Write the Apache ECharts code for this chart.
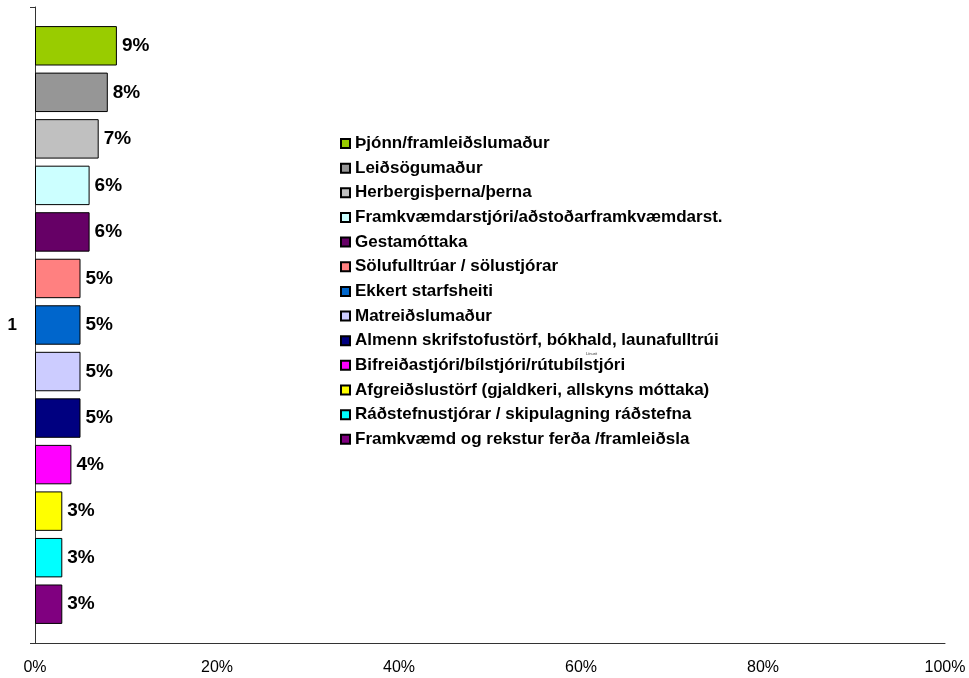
<!DOCTYPE html>
<html>
<head>
<meta charset="utf-8">
<script src="https://cdn.jsdelivr.net/npm/echarts@6/dist/echarts.min.js"></script>
<style>html,body{margin:0;padding:0;background:#fff;}#c{width:969px;height:678px;}</style>
</head>
<body>
<div id="c"></div>
<script>
var categories = ['1'];
var seriesNames = [
  'Þjónn/framleiðslumaður',
  'Leiðsögumaður',
  'Herbergisþerna/þerna',
  'Framkvæmdarstjóri/aðstoðarframkvæmdarst.',
  'Gestamóttaka',
  'Sölufulltrúar / sölustjórar',
  'Ekkert starfsheiti',
  'Matreiðslumaður',
  'Almenn skrifstofustörf, bókhald, launafulltrúi',
  'Bifreiðastjóri/bílstjóri/rútubílstjóri',
  'Afgreiðslustörf (gjaldkeri, allskyns móttaka)',
  'Ráðstefnustjórar / skipulagning ráðstefna',
  'Framkvæmd og rekstur ferða /framleiðsla'
];
var seriesValues = [9, 8, 7, 6, 6, 5, 5, 5, 5, 4, 3, 3, 3];
var seriesColors = ['#99CC00','#969696','#C0C0C0','#CCFFFF','#660066','#FF8080','#0066CC','#CCCCFF','#000080','#FF00FF','#FFFF00','#00FFFF','#800080'];
var xTicks = [0, 20, 40, 60, 80, 100];

var FONT = 'Liberation Sans, Arial, sans-serif';
var chart = echarts.init(document.getElementById('c'));
var series = seriesNames.map(function (n, i) {
  return {
    name: n,
    type: 'bar',
    data: [seriesValues[i]],
    barGap: '18%',
    barCategoryGap: '6%',
    itemStyle: { color: seriesColors[i], borderColor: '#000', borderWidth: 1 },
    label: {
      show: true, position: 'right', distance: 5,
      formatter: '{c}%', color: '#000', fontWeight: 'bold',
      fontSize: 19, fontFamily: FONT
    },
    emphasis: { disabled: true }
  };
});
chart.setOption({
  animation: false,
  grid: { left: 35, right: 24, top: 7, bottom: 35, containLabel: false },
  xAxis: {
    type: 'value', min: xTicks[0], max: xTicks[xTicks.length - 1], interval: 20,
    axisLine: { show: true, lineStyle: { color: '#333', width: 1 } },
    axisTick: { show: false },
    splitLine: { show: false },
    axisLabel: { formatter: '{value}%', color: '#000', fontSize: 16, margin: 17, fontFamily: FONT }
  },
  yAxis: {
    type: 'category', data: categories, inverse: true,
    axisLine: { show: true, lineStyle: { color: '#333', width: 1 } },
    axisTick: { show: true, length: 5, lineStyle: { color: '#333' } },
    axisLabel: { color: '#000', fontWeight: 'bold', fontSize: 17, margin: 18, fontFamily: FONT }
  },
  legend: {
    orient: 'vertical', left: 335, top: 130,
    itemWidth: 9, itemHeight: 9, itemGap: 7.65, icon: 'rect',
    textStyle: { color: '#000', fontWeight: 'bold', fontSize: 17, lineHeight: 16, fontFamily: FONT },
    data: seriesNames
  },
  graphic: [{
    type: 'text', left: 586, top: 352,
    style: { text: 'Línurit', fontSize: 4, fill: '#333', fontFamily: FONT }
  }],
  series: series
});
</script>
</body>
</html>
